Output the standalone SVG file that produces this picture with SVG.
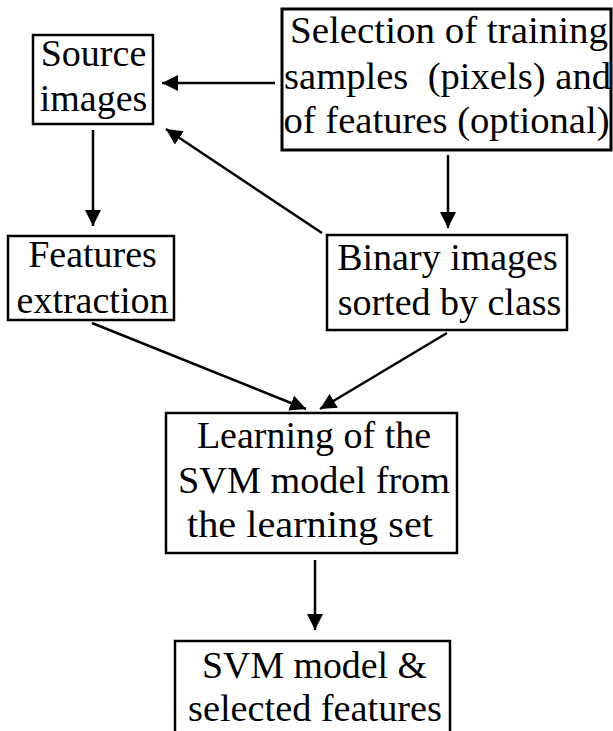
<svg xmlns="http://www.w3.org/2000/svg" width="613" height="731" viewBox="0 0 613 731" font-family="Liberation Serif, serif">
<style>
.box{fill:#fff;stroke:#000;stroke-width:2.5}
.t{font-size:38px;fill:#000;text-anchor:middle}
.c{stroke:#000;stroke-width:2.5;fill:none;marker-end:url(#ah)}
</style>
<defs>
<marker id="ah" markerUnits="userSpaceOnUse" markerWidth="18" markerHeight="16" refX="16" refY="8" orient="auto">
<path d="M0,0 L16,8 L0,16 Z" fill="#000"/>
</marker>
</defs>
<rect width="613" height="731" fill="#fff"/>
<g id="connectors">
<line class="c" x1="275" y1="83" x2="162" y2="83"/>
<line class="c" x1="322" y1="233" x2="166" y2="129"/>
<line class="c" x1="93" y1="130" x2="93" y2="226"/>
<line class="c" x1="448" y1="155" x2="448" y2="228"/>
<line class="c" x1="92" y1="323" x2="306" y2="409"/>
<line class="c" x1="447" y1="333" x2="320" y2="409"/>
<line class="c" x1="315" y1="560" x2="315" y2="630"/>
</g>
<g id="source">
<rect class="box" x="33" y="35" width="120" height="89"/>
<text class="t" x="93.5" y="66" font-family="Liberation Serif">Source</text>
<text class="t" x="93.5" y="111" font-family="Liberation Serif">images</text>
</g>
<g id="selection">
<rect class="box" x="282" y="9" width="329" height="141" style="stroke-width:3"/>
<text class="t" x="449" y="43" font-family="Liberation Serif" textLength="318" lengthAdjust="spacingAndGlyphs">Selection of training</text>
<text class="t" x="447.5" y="89" font-family="Liberation Serif" xml:space="preserve" textLength="327" lengthAdjust="spacingAndGlyphs">samples  (pixels) and</text>
<text class="t" x="446.5" y="133" font-family="Liberation Serif" textLength="326" lengthAdjust="spacingAndGlyphs">of features (optional)</text>
</g>
<g id="features">
<rect class="box" x="8" y="236" width="166" height="84"/>
<text class="t" x="92.5" y="267" font-family="Liberation Serif">Features</text>
<text class="t" x="92.5" y="313" font-family="Liberation Serif">extraction</text>
</g>
<g id="binary">
<rect class="box" x="327" y="235" width="240" height="95"/>
<text class="t" x="447.5" y="270" font-family="Liberation Serif">Binary images</text>
<text class="t" x="449.5" y="315" font-family="Liberation Serif">sorted by class</text>
</g>
<g id="learning">
<rect class="box" x="166" y="413" width="291" height="140"/>
<text class="t" x="314" y="448" font-family="Liberation Serif">Learning of the</text>
<text class="t" x="314" y="493" font-family="Liberation Serif" textLength="272" lengthAdjust="spacingAndGlyphs">SVM model from</text>
<text class="t" x="310" y="537" font-family="Liberation Serif" textLength="246" lengthAdjust="spacingAndGlyphs">the learning set</text>
</g>
<g id="svm">
<rect class="box" x="175" y="641" width="275" height="100"/>
<text class="t" x="314.5" y="678" font-family="Liberation Serif" textLength="225" lengthAdjust="spacingAndGlyphs">SVM model &amp;</text>
<text class="t" x="315" y="721" font-family="Liberation Serif" textLength="254" lengthAdjust="spacingAndGlyphs">selected features</text>
</g>
</svg>
